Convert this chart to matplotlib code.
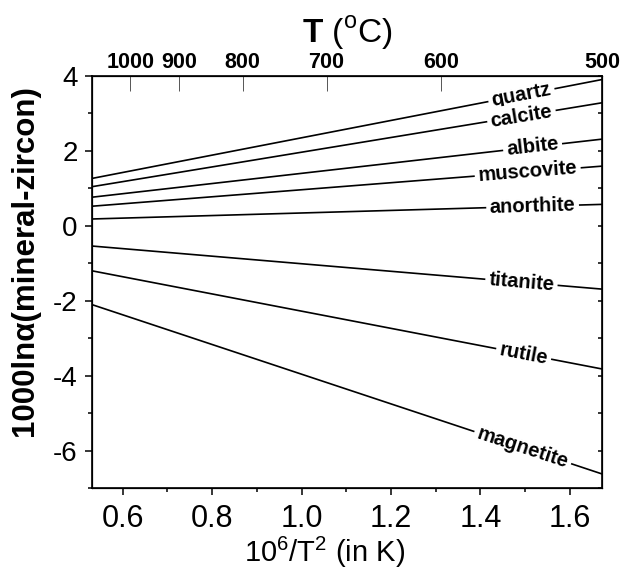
import numpy as np
import matplotlib
matplotlib.use("Agg")
import matplotlib.pyplot as plt
from matplotlib.ticker import MultipleLocator

plt.rcParams['font.family'] = ['Liberation Sans', 'DejaVu Sans']
plt.rcParams['mathtext.fontset'] = 'custom'
plt.rcParams['mathtext.rm'] = 'Liberation Sans'
plt.rcParams['mathtext.bf'] = 'Liberation Sans:bold'
plt.rcParams['axes.unicode_minus'] = False

# Данные: значения на левом (1100 °C) и правом (500 °C) краях
minerals = ["quartz", "calcite", "albite", "muscovite", "anorthite",
            "titanite", "rutile", "magnetite"]
y_left = [1.26, 1.04, 0.76, 0.52, 0.18, -0.54, -1.20, -2.10]
y_right = [3.90, 3.28, 2.31, 1.59, 0.57, -1.69, -3.82, -6.62]
label_x = [1.492, 1.492, 1.517, 1.506, 1.517, 1.492, 1.497, 1.495]

t_min, t_max = 500, 1100
t_ticks = [1000, 900, 800, 700, 600, 500]


def to_x(t_c):
    return 1e6 / (np.asarray(t_c, dtype=float) + 273.15) ** 2


x0, x1 = float(to_x(t_max)), float(to_x(t_min))

fig = plt.figure(figsize=(6.22, 5.75), dpi=100)
ax = fig.add_axes([0.1474, 0.1508, 0.8209, 0.7175])

for name, yl, yr, lx in zip(minerals, y_left, y_right, label_x):
    ax.plot([x0, x1], [yl, yr], color="black", lw=1.2)
    slope = (yr - yl) / (x1 - x0)
    ly = yl + slope * (lx - x0)
    ax.text(lx, ly, name, fontsize=14.5, fontweight="bold", ha="center",
            va="center", rotation=np.degrees(np.arctan(slope)),
            rotation_mode="anchor", transform_rotates_text=True,
            bbox=dict(fc="white", ec="none", pad=2.5), zorder=3)

ax.set_xlim(x0, x1)
ax.set_ylim(-7, 4)
ax.xaxis.set_minor_locator(MultipleLocator(0.1))
ax.yaxis.set_major_locator(MultipleLocator(2))
ax.yaxis.set_minor_locator(MultipleLocator(1))
ax.set_xticks([0.6, 0.8, 1.0, 1.2, 1.4, 1.6])
ax.set_xticklabels(["0.6", "0.8", "1.0", "1.2", "1.4", "1.6"])
ax.tick_params(axis="x", which="major", direction="out", length=5, width=1.1,
               labelsize=22, pad=6)
ax.tick_params(axis="x", which="minor", direction="out", length=3, width=1.1)
ax.tick_params(axis="y", which="major", direction="out", length=5, width=1.1,
               labelsize=20, pad=5)
ax.tick_params(axis="y", which="minor", direction="out", length=3, width=1.1)
for s in ax.spines.values():
    s.set_linewidth(1.2)

ax.set_xlabel(r"10$^{6}$/T$^{2}$ (in K)", fontsize=21)
ax.xaxis.set_label_coords(0.457, -0.112)
ax.set_ylabel("1000lnα(mineral-zircon)", fontsize=22.5, fontweight="bold")
ax.yaxis.set_label_coords(-0.102, 0.551)

# правая ось: внутренние штрихи
axr = ax.twinx()
axr.set_ylim(-7, 4)
axr.yaxis.set_major_locator(MultipleLocator(1))
axr.tick_params(axis="y", direction="in", length=3, width=1.1, labelright=False)

# верхняя ось: температура
axt = ax.twiny()
axt.set_xlim(x0, x1)
axt.set_xticks(to_x(t_ticks))
axt.set_xticklabels([str(t) for t in t_ticks])
axt.tick_params(axis="x", direction="in", length=11, width=0.7,
                color="#555555", labelsize=15.5, pad=2)
for lab in axt.get_xticklabels():
    lab.set_fontweight("bold")
axt.set_xlabel(r"$\mathbf{T}$ ($^{\rm o}$C)", fontsize=24, labelpad=7)

fig.savefig("out.png", dpi=100)
